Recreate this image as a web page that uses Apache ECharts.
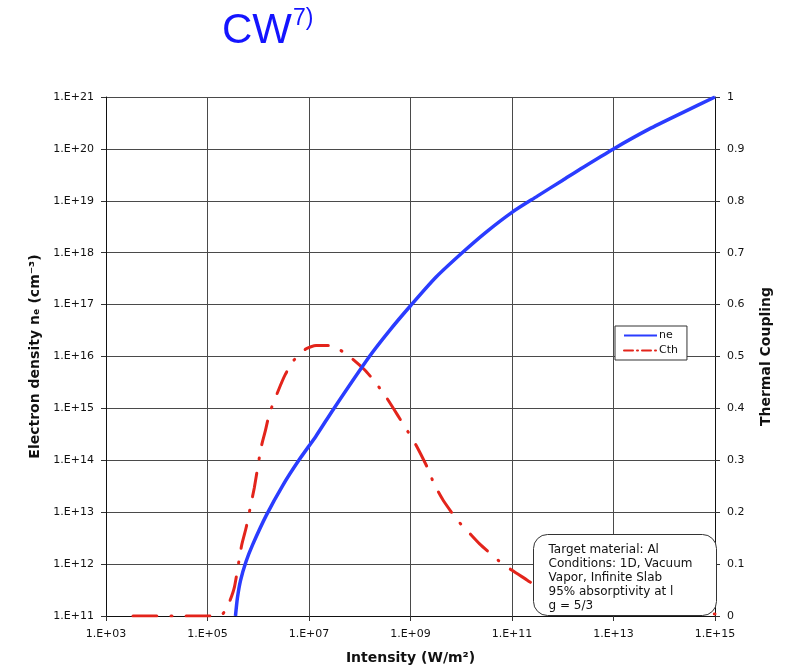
<!DOCTYPE html>
<html>
<head>
<meta charset="utf-8">
<title>CW</title>
<script src="https://cdn.jsdelivr.net/npm/echarts@6/dist/echarts.min.js"></script>
<style>
  html, body { margin: 0; padding: 0; background: #fff; }
  #chart { width: 787px; height: 666px; }
</style>
</head>
<body>
<div id="chart"></div>
<script>
// intensity (W/m2) and electron density ne (cm-3)
var neIntensity = [3.56e5, 3.89e5, 4.47e5, 5.75e5, 7.8e5, 1.44e6, 3.05e6, 6.3e6, 1.38e7, 3.1e7,
    1.55e8, 3.86e8, 1e9, 3.2e9, 1.07e10, 3.1e10, 1e11, 3.16e11, 1e12, 2.5e12, 1e13, 5e13, 2.3e14, 1e15];
var neValues = [1e11, 2.24e11, 4.8e11, 1.12e12, 2.4e12, 8.7e12, 3.3e13, 1e14, 2.95e14, 1e15,
    1e16, 3.16e16, 9.5e16, 3.4e17, 1.02e18, 2.5e18, 6e18, 1.23e19, 2.5e19, 4.4e19, 1e20, 2.4e20, 5e20, 1e21];

// intensity (W/m2) and thermal coupling Cth
var cthIntensity = [3.4e3, 1e5, 1.9e5, 2.7e5, 3.4e5, 4.7e5, 5.8e5, 7.2e5, 8.4e5, 1.14e6, 1.39e6,
    1.66e6, 2.5e6, 3.4e6, 5e6, 8.8e6, 1.38e7, 2.6e7, 5.4e7, 1.23e8, 2e8, 3.3e8, 6e8, 8.8e8,
    1.29e9, 2.2e9, 2.9e9, 4.4e9, 8.5e9, 1.35e10, 2.3e10, 5.4e10, 1e11, 1.8e11, 2.6e11,
    1e12, 1e13, 1e14, 1e15];
var cthValues = [0, 0, 0.002, 0.027, 0.056, 0.136, 0.171, 0.216, 0.248, 0.325, 0.358,
    0.39, 0.435, 0.465, 0.4925, 0.515, 0.521, 0.521, 0.505, 0.475, 0.451, 0.422, 0.382, 0.356,
    0.329, 0.284, 0.255, 0.223, 0.184, 0.163, 0.139, 0.107, 0.088, 0.072, 0.062,
    0.04, 0.02, 0.01, 0.004];

var noteLines = ['Target material: Al', 'Conditions: 1D, Vacuum', 'Vapor, Infinite Slab',
    '95% absorptivity at l', 'g = 5/3'];

function expLabel(v) {
    var e = Math.round(Math.log10(v));
    return '1.E+' + (e < 10 ? '0' + e : e);
}

function pairs(xs, ys) {
    var out = [];
    for (var i = 0; i < xs.length; i++) { out.push([xs[i], ys[i]]); }
    return out;
}

var font = 'DejaVu Sans';
var gridColor = '#4a4a4a';
var blue = '#2a3cff';
var red = '#e3241b';

var myChart = echarts.init(document.getElementById('chart'));
var option = {
    backgroundColor: '#fff',
    animation: false,
    title: {
        text: '{a|CW}{b|7)}',
        left: 217,
        top: 2,
        textStyle: {
            fontWeight: 'normal',
            rich: {
                a: { fontSize: 42, color: '#1414ff', fontFamily: 'Liberation Sans', fontWeight: 'normal', lineHeight: 48 },
                b: { fontSize: 23, color: '#1414ff', fontFamily: 'Liberation Sans', fontWeight: 'normal', verticalAlign: 'top', lineHeight: 48, padding: [0, 0, 14, 1] }
            }
        }
    },
    grid: { left: 106, right: 72, top: 97, bottom: 50, outerBoundsMode: 'none', containLabel: false },
    legend: {
        orient: 'vertical',
        left: 615,
        top: 326,
        padding: [4, 9, 4, 8],
        itemGap: 4,
        itemWidth: 33,
        itemHeight: 8,
        borderColor: '#333',
        borderWidth: 1,
        backgroundColor: '#fff',
        itemStyle: { opacity: 0 },
        lineStyle: { opacity: 1, width: 2 },
        textStyle: { fontFamily: font, fontSize: 11, color: '#111', padding: [0, 0, 0, -3] },
        data: [
            { name: 'ne' },
            { name: 'Cth', lineStyle: { type: [9, 4, 1, 4], cap: 'round', width: 2, opacity: 1 } }
        ]
    },
    xAxis: {
        type: 'log',
        logBase: 10,
        min: 1e3,
        max: 1e15,
        interval: 2,
        name: 'Intensity (W/m²)',
        nameLocation: 'middle',
        nameGap: 35,
        nameTextStyle: { fontFamily: font, fontSize: 14, fontWeight: 'bold', color: '#111' },
        axisLine: { show: true, lineStyle: { color: '#111', width: 1 } },
        axisTick: { show: true, inside: false, length: 5, lineStyle: { color: '#333' } },
        axisLabel: { fontFamily: font, fontSize: 11, color: '#111', margin: 13, formatter: expLabel },
        splitLine: { show: true, lineStyle: { color: gridColor, width: 1 } }
    },
    yAxis: [
        {
            type: 'log',
            logBase: 10,
            min: 1e11,
            max: 1e21,
            position: 'left',
            name: 'Electron density nₑ (cm⁻³)',
            nameLocation: 'middle',
            nameGap: 64,
            nameTextStyle: { fontFamily: font, fontSize: 14, fontWeight: 'bold', color: '#111' },
            axisLine: { show: true, lineStyle: { color: '#111', width: 1 } },
            axisTick: { show: true, inside: false, length: 5, lineStyle: { color: '#333' } },
            axisLabel: { fontFamily: font, fontSize: 11, color: '#111', margin: 12, formatter: expLabel },
            splitLine: { show: true, lineStyle: { color: gridColor, width: 1 } }
        },
        {
            type: 'value',
            min: 0,
            max: 1,
            interval: 0.1,
            position: 'right',
            name: 'Thermal Coupling',
            nameLocation: 'middle',
            nameGap: 44,
            nameRotate: 90,
            nameTextStyle: { fontFamily: font, fontSize: 14, fontWeight: 'bold', color: '#111' },
            axisLine: { show: true, lineStyle: { color: '#111', width: 1 } },
            axisTick: { show: true, inside: false, length: 5, lineStyle: { color: '#333' } },
            axisLabel: {
                fontFamily: font, fontSize: 11, color: '#111', margin: 12,
                formatter: function (v) { return String(+v.toFixed(1)); }
            },
            splitLine: { show: false }
        }
    ],
    series: [
        {
            name: 'ne',
            type: 'line',
            yAxisIndex: 0,
            data: pairs(neIntensity, neValues),
            symbol: 'none',
            smooth: 0.25,
            itemStyle: { color: blue },
            lineStyle: { color: blue, width: 3.5 },
            z: 3
        },
        {
            name: 'Cth',
            type: 'line',
            yAxisIndex: 1,
            data: pairs(cthIntensity, cthValues),
            symbol: 'none',
            smooth: 0.2,
            itemStyle: { color: red },
            lineStyle: { color: red, width: 3, type: [24, 14, 1, 14], cap: 'round' },
            z: 2
        }
    ],
    graphic: [
        {
            type: 'group',
            left: 533,
            top: 534,
            z: 100,
            children: [
                {
                    type: 'rect',
                    z: 100,
                    shape: { x: 0, y: 0, width: 183, height: 81, r: 14 },
                    style: { fill: '#fff', stroke: '#333', lineWidth: 1 }
                },
                {
                    type: 'text',
                    z: 101,
                    x: 15,
                    y: 8,
                    style: {
                        text: noteLines.join('\n'),
                        font: '12px "DejaVu Sans"',
                        fill: '#111',
                        lineHeight: 14
                    }
                }
            ]
        }
    ]
};
myChart.setOption(option);
</script>
</body>
</html>
